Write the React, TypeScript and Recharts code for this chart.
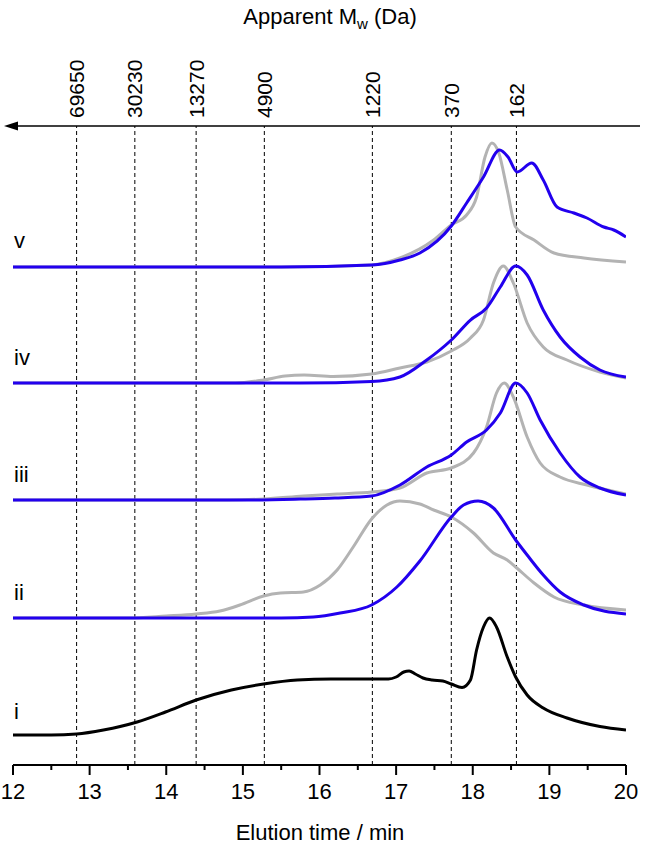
import React from 'react';
import { LineChart, Line, XAxis, YAxis, ReferenceLine } from 'recharts';

// elution time (min) -> signal height above each trace's own baseline
const TRACE_I: [number, number][] = [
  [12, 0], [12.5, 0], [12.83, 1], [13.18, 5], [13.62, 13], [13.99, 23], [14.39, 35],
  [14.85, 45], [15.27, 51], [15.71, 55], [16.15, 56], [16.69, 56], [16.9, 56],
  [17.0, 58], [17.1, 63], [17.17, 64], [17.25, 61], [17.35, 57], [17.47, 55], [17.61, 54],
  [17.72, 51], [17.86, 47.5], [17.97, 55], [18.05, 85], [18.14, 108], [18.22, 117],
  [18.31, 108], [18.45, 78], [18.56, 58], [18.71, 40], [18.92, 27], [19.23, 17],
  [19.66, 8.5], [20, 5],
];
const TRACE_II_GREY: [number, number][] = [
  [12, 0], [13.5, 0], [14.0, 2], [14.39, 4], [14.7, 7], [14.96, 13], [15.27, 22],
  [15.49, 25], [15.79, 26], [16.01, 33], [16.23, 48], [16.44, 71], [16.68, 99],
  [16.88, 113], [17.05, 117], [17.31, 114], [17.49, 108], [17.72, 101], [18.01, 85],
  [18.27, 65], [18.45, 58], [18.56, 51], [18.8, 35], [19.06, 21], [19.45, 13], [20, 8],
];
const TRACE_II_BLUE: [number, number][] = [
  [12, 0], [15.5, 0], [15.92, 1], [16.27, 5], [16.68, 13], [17.01, 31], [17.31, 57],
  [17.72, 101], [17.88, 113], [18.07, 117], [18.27, 110], [18.56, 78], [18.71, 63],
  [18.92, 43], [19.14, 26], [19.45, 13], [20, 4],
];
const TRACE_III_GREY: [number, number][] = [
  [12, 0], [14.8, 0], [15.27, 1], [15.79, 4], [16.23, 6], [16.68, 8], [17.05, 12],
  [17.4, 27], [17.72, 32], [18.01, 47], [18.18, 73], [18.31, 107], [18.41, 117],
  [18.53, 103], [18.71, 63], [18.88, 37], [19.14, 23], [19.49, 15], [20, 6],
];
const TRACE_III_BLUE: [number, number][] = [
  [12, 0], [15.0, 0], [15.75, 1], [16.2, 2], [16.68, 4], [17.05, 15], [17.4, 33],
  [17.72, 45], [17.92, 58], [18.18, 70], [18.36, 87], [18.56, 117], [18.71, 107],
  [18.88, 80], [19.14, 47], [19.4, 23], [19.66, 12], [20, 5],
];
const TRACE_IV_GREY: [number, number][] = [
  [12, 0], [14.9, 0], [15.27, 3], [15.55, 7], [15.8, 8], [16.18, 6.5], [16.68, 9],
  [17.05, 15], [17.4, 21], [17.72, 32], [17.97, 45], [18.14, 63], [18.27, 100],
  [18.4, 117], [18.53, 100], [18.71, 60], [18.92, 36], [19.23, 23], [19.66, 11], [20, 5],
];
const TRACE_IV_BLUE: [number, number][] = [
  [12, 0], [15.0, 0], [15.75, 0], [16.68, 1.5], [17.05, 6], [17.4, 23], [17.72, 43],
  [17.97, 63], [18.18, 75], [18.36, 96], [18.56, 117], [18.71, 108], [18.92, 73],
  [19.14, 46], [19.4, 26], [19.66, 13], [20, 6],
];
const TRACE_V_GREY: [number, number][] = [
  [12, 0], [15.5, 0], [16.68, 2], [17.05, 9], [17.49, 27], [17.72, 42], [17.92, 52],
  [18.05, 70], [18.16, 110], [18.25, 124], [18.34, 114], [18.45, 77], [18.56, 40],
  [18.8, 27], [19.06, 14], [19.45, 9], [20, 5],
];
const TRACE_V_BLUE: [number, number][] = [
  [12, 0], [15.5, 0], [16.68, 2], [17.05, 7], [17.31, 14], [17.72, 41], [17.92, 64],
  [18.14, 90], [18.35, 117], [18.46, 110], [18.58, 95], [18.77, 104], [18.92, 87],
  [19.1, 60], [19.32, 54], [19.49, 49], [19.71, 40], [19.84, 37], [20, 30],
];

// vertical offsets of the stacked traces i..v
const OFFSETS = [30, 147, 265, 382, 498];
const TRACE_NAMES = ['i', 'ii', 'iii', 'iv', 'v'];

// calibration: elution time of each standard and its molar mass
const MW_TIMES = [12.83, 13.59, 14.39, 15.28, 16.69, 17.72, 18.57];
const MW_LABELS = ['69650', '30230', '13270', '4900', '1220', '370', '162'];

const X_TICKS = [12, 12.5, 13, 13.5, 14, 14.5, 15, 15.5, 16, 16.5, 17, 17.5, 18, 18.5, 19, 19.5, 20];

const BLUE = '#2200ee';
const GREY = '#b3b3b3';
const FONT = '"Liberation Sans", Arial, sans-serif';

const build = (pts: [number, number][], offset: number) =>
  pts.map(([t, h]) => ({ t, y: offset + h }));

const AxisTick = (props: any) => {
  const { x, y, payload } = props;
  const major = Number.isInteger(payload.value);
  return (
    <g>
      <line x1={x} x2={x} y1={y} y2={y + (major ? 10 : 5)} stroke="#000" strokeWidth={2} />
      {major && (
        <text x={x} y={y + 34} textAnchor="middle" fontSize={22} fontFamily={FONT} fill="#000">
          {payload.value}
        </text>
      )}
    </g>
  );
};

const MwLabel = (props: any) => {
  const { viewBox, value } = props;
  if (!viewBox) return null;
  const x = viewBox.x + 7.5;
  const y = viewBox.y - 8;
  return (
    <text transform={`translate(${x}, ${y}) rotate(-90)`} textAnchor="start" fontSize={21} fontFamily={FONT} fill="#000">
      {value}
    </text>
  );
};

const series = [
  { data: build(TRACE_I, OFFSETS[0]), color: '#000' },
  { data: build(TRACE_II_GREY, OFFSETS[1]), color: GREY },
  { data: build(TRACE_II_BLUE, OFFSETS[1]), color: BLUE },
  { data: build(TRACE_III_GREY, OFFSETS[2]), color: GREY },
  { data: build(TRACE_III_BLUE, OFFSETS[2]), color: BLUE },
  { data: build(TRACE_IV_GREY, OFFSETS[3]), color: GREY },
  { data: build(TRACE_IV_BLUE, OFFSETS[3]), color: BLUE },
  { data: build(TRACE_V_GREY, OFFSETS[4]), color: GREY },
  { data: build(TRACE_V_BLUE, OFFSETS[4]), color: BLUE },
];

const labelY = [719, 600, 482, 365, 248];

export default function App() {
  return (
    <div style={{ position: 'absolute', left: 0, top: 0, width: 647, height: 852, background: '#fff' }}>
      <LineChart width={647} height={852} margin={{ top: 126, right: 21, left: 13, bottom: 7 }}>
        <XAxis
          dataKey="t"
          type="number"
          domain={[12, 20]}
          ticks={X_TICKS}
          interval={0}
          allowDataOverflow
          tick={<AxisTick />}
          tickLine={false}
          tickSize={0}
          tickMargin={0}
          height={80}
          axisLine={{ stroke: '#000', strokeWidth: 2 }}
        />
        <YAxis hide type="number" domain={[0, 639]} allowDataOverflow />
        {MW_TIMES.map((t, i) => (
          <ReferenceLine
            key={t}
            x={t}
            stroke="#000"
            strokeWidth={1}
            strokeDasharray="4 3"
            label={<MwLabel value={MW_LABELS[i]} />}
          />
        ))}
        {series.map((s, i) => (
          <Line
            key={i}
            data={s.data}
            dataKey="y"
            type="monotone"
            stroke={s.color}
            strokeWidth={3}
            dot={false}
            activeDot={false}
            isAnimationActive={false}
          />
        ))}
      </LineChart>
      <svg width={647} height={852} style={{ position: 'absolute', left: 0, top: 0, pointerEvents: 'none' }}>
        <line x1={12} x2={640} y1={126} y2={126} stroke="#000" strokeWidth={1.5} />
        <polygon points="4,126 18,121.5 18,130.5" fill="#000" />
        <text x={330} y={24} textAnchor="middle" fontSize={22} fontFamily={FONT} fill="#000">
          <tspan>Apparent M</tspan>
          <tspan dy={5} fontSize={15}>w</tspan>
          <tspan dy={-5}> (Da)</tspan>
        </text>
        <text x={320} y={840} textAnchor="middle" fontSize={22} fontFamily={FONT} fill="#000">
          Elution time / min
        </text>
        {TRACE_NAMES.map((n, i) => (
          <text key={n} x={14} y={labelY[i]} fontSize={22} fontFamily={FONT} fill="#000">
            {n}
          </text>
        ))}
      </svg>
    </div>
  );
}
